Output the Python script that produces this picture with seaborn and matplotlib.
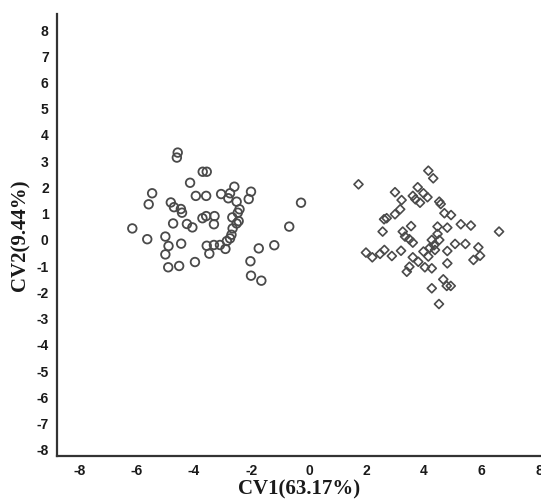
import pandas as pd
import matplotlib.pyplot as plt
import seaborn as sns

# group 1 (circles)
g1_x = [-4.57, -4.60, -3.70, -3.56, -4.14, -5.46, -5.58, -3.94, -3.58, -3.06,
        -2.81, -2.60, -2.75, -2.02, -2.10, -2.52, -2.42, -2.48, -0.28, -4.81,
        -4.70, -4.46, -4.42, -4.73, -4.25, -4.06, -3.71, -3.58, -3.29, -3.31,
        -2.67, -2.52, -2.66, -2.75, -2.86, -6.15, -5.63, -5.00, -4.89, -5.00,
        -4.45, -3.56, -3.31, -3.10, -2.91, -3.47, -4.90, -4.52, -3.97, -1.75,
        -1.21, -0.69, -2.04, -2.02, -1.66, -2.45, -2.70]
g1_y = [3.33, 3.14, 2.60, 2.60, 2.18, 1.78, 1.36, 1.68, 1.68, 1.75,
        1.59, 2.03, 1.78, 1.84, 1.56, 1.46, 1.17, 1.04, 1.42, 1.43,
        1.25, 1.18, 1.04, 0.63, 0.61, 0.48, 0.83, 0.91, 0.91, 0.60,
        0.86, 0.63, 0.44, 0.06, -0.04, 0.44, 0.03, 0.13, -0.23, -0.55,
        -0.14, -0.22, -0.19, -0.19, -0.34, -0.52, -1.04, -0.99, -0.84, -0.32,
        -0.20, 0.51, -0.81, -1.36, -1.55, 0.72, 0.20]

# group 2 (diamonds)
g2_x = [1.72, 4.15, 4.32, 2.99, 3.22, 3.78, 3.61, 3.70, 3.98, 4.12,
        3.86, 4.53, 4.58, 3.17, 2.99, 2.70, 2.61, 4.71, 4.94, 5.28,
        5.63, 6.61, 2.56, 3.26, 3.55, 3.34, 3.49, 3.61, 4.47, 4.81,
        4.47, 4.53, 4.27, 5.08, 5.44, 5.89, 5.95, 5.72, 1.98, 2.20,
        2.47, 2.62, 2.88, 3.20, 3.61, 3.80, 3.98, 4.15, 4.38, 4.81,
        4.81, 4.03, 4.27, 3.49, 3.40, 4.67, 4.79, 4.93, 4.27, 4.52,
        4.20, 4.35]
g2_y = [2.12, 2.64, 2.35, 1.82, 1.52, 2.01, 1.68, 1.55, 1.78, 1.63,
        1.42, 1.46, 1.37, 1.17, 0.98, 0.83, 0.79, 1.02, 0.95, 0.60,
        0.55, 0.32, 0.32, 0.32, 0.53, 0.13, 0.03, -0.10, 0.51, 0.47,
        0.23, 0.00, 0.00, -0.15, -0.15, -0.28, -0.60, -0.76, -0.48, -0.66,
        -0.53, -0.38, -0.61, -0.41, -0.66, -0.83, -0.44, -0.63, -0.38, -0.42,
        -0.89, -1.04, -1.08, -1.02, -1.21, -1.50, -1.75, -1.75, -1.84, -2.44,
        -0.30, -0.20]

x_ticks = [-8, -6, -4, -2, 0, 2, 4, 6, 8]
y_ticks = list(range(-8, 9))

df = pd.DataFrame({
    "CV1": g1_x + g2_x,
    "CV2": g1_y + g2_y,
    "group": ["A"] * len(g1_x) + ["B"] * len(g2_x),
})

sns.set_style("white")
plt.rcParams["axes.unicode_minus"] = False
fig = plt.figure(figsize=(5.41, 4.99), dpi=100)
ax = fig.add_axes([57 / 541, 43 / 499, 1 - 57 / 541, 442 / 499])

sns.scatterplot(data=df[df.group == "A"], x="CV1", y="CV2", marker="o", s=38,
                facecolor="none", edgecolor="#4a4a4a", linewidth=1.3, ax=ax)
sns.scatterplot(data=df[df.group == "B"], x="CV1", y="CV2", marker="D", s=21,
                facecolor="none", edgecolor="#4a4a4a", linewidth=1.2, ax=ax)

ax.set_xlim(-8.77, 8.07)
ax.set_ylim(-8.23, 8.61)
ax.set_xticks(x_ticks)
ax.set_yticks(y_ticks)
ax.tick_params(length=0, pad=6, colors="#1a1a1a")
for lab in ax.get_xticklabels() + ax.get_yticklabels():
    lab.set_fontfamily("Liberation Sans")
    lab.set_fontweight("bold")
    lab.set_fontsize(10)

for side in ["top", "right"]:
    ax.spines[side].set_visible(False)
for side in ["left", "bottom"]:
    ax.spines[side].set_color("#333333")
    ax.spines[side].set_linewidth(1.6)

ax.set_xlabel("CV1(63.17%)", fontfamily="Liberation Serif", fontweight="bold",
              fontsize=15, color="#1a1a1a", labelpad=1)
ax.set_ylabel("CV2(9.44%)", fontfamily="Liberation Serif", fontweight="bold",
              fontsize=15, color="#1a1a1a", labelpad=4)

plt.savefig("out.png", dpi=100)
